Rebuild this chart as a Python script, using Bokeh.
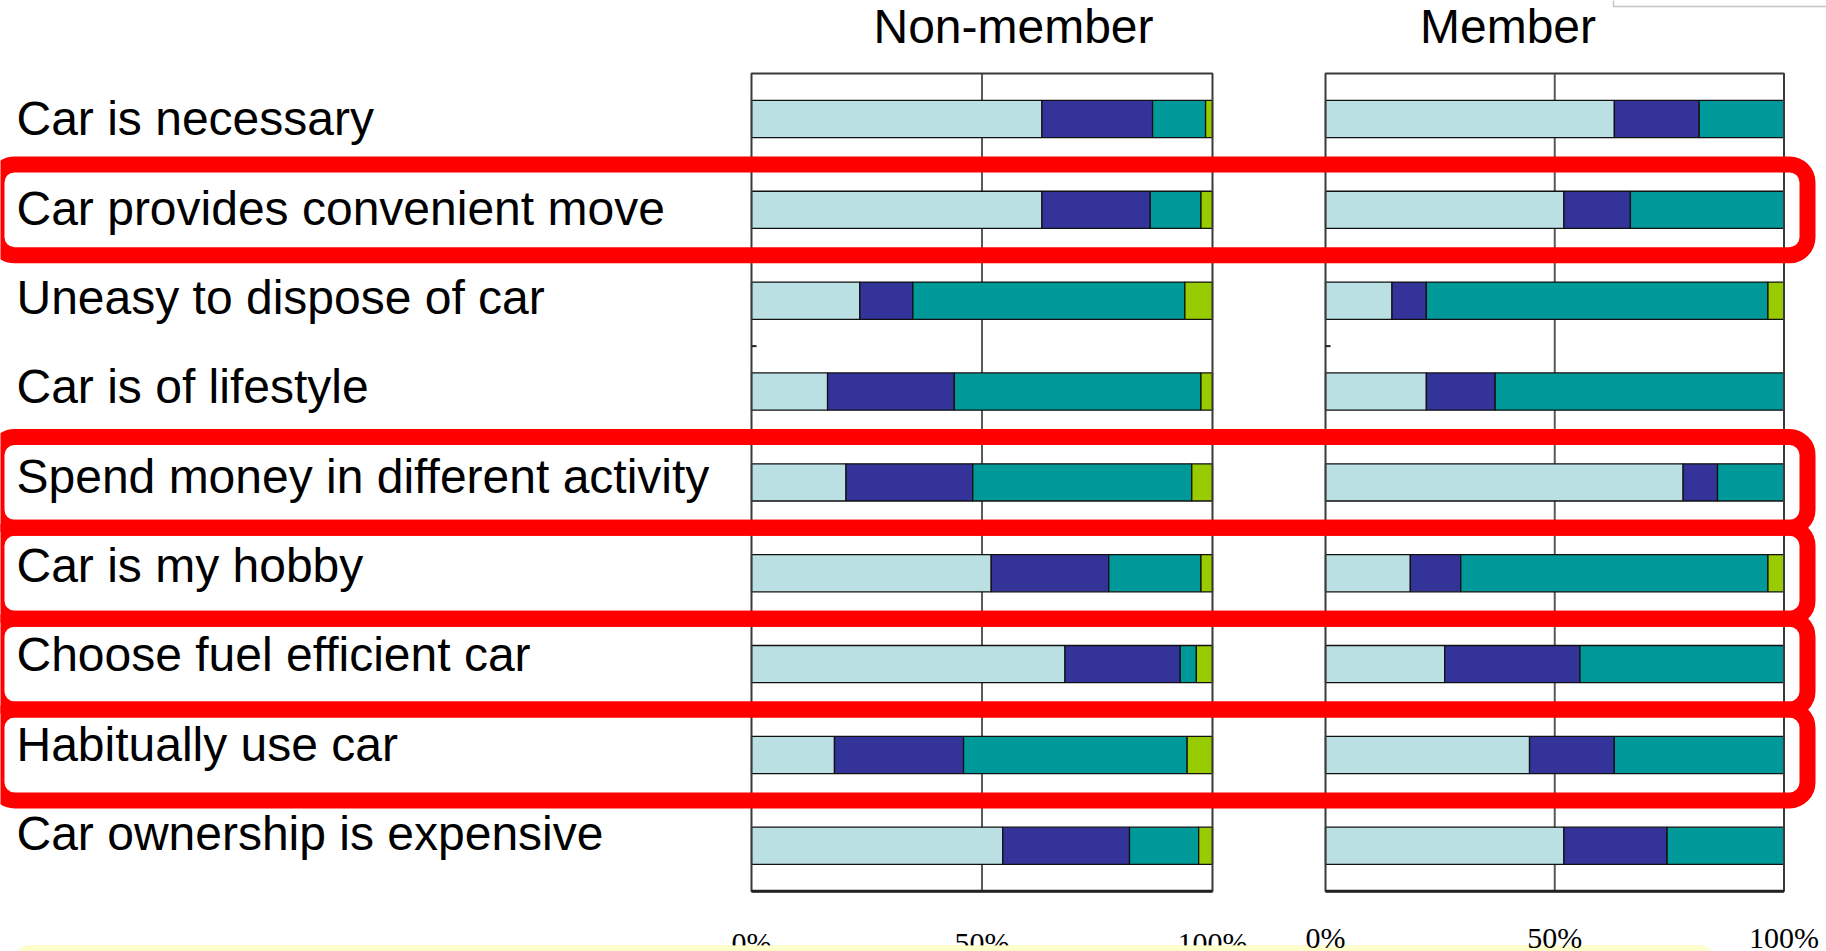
from bokeh.plotting import figure
from bokeh.models import Range1d, ColumnDataSource, BoxAnnotation
from bokeh.core.properties import value
from bokeh.embed import file_html
from bokeh.resources import INLINE

# ---------------------------------------------------------------- data
categories = [
    "Car is necessary",
    "Car provides convenient move",
    "Uneasy to dispose of car",
    "Car is of lifestyle",
    "Spend money in different activity",
    "Car is my hobby",
    "Choose fuel efficient car",
    "Habitually use car",
    "Car ownership is expensive",
]

# share of answers (%) per statement, four answer groups, non-members
nm_group1 = [63.0, 63.0, 23.5, 16.5, 20.5, 52.0, 68.0, 18.0, 54.5]
nm_group2 = [24.0, 23.5, 11.5, 27.5, 27.5, 25.5, 25.0, 28.0, 27.5]
nm_group3 = [11.5, 11.0, 59.0, 53.5, 47.5, 20.0, 3.5, 48.5, 15.0]
nm_group4 = [1.5, 2.5, 6.0, 2.5, 4.5, 2.5, 3.5, 5.5, 3.0]

# same statements, members
m_group1 = [63.0, 52.0, 14.5, 22.0, 78.0, 18.5, 26.0, 44.5, 52.0]
m_group2 = [18.5, 14.5, 7.5, 15.0, 7.5, 11.0, 29.5, 18.5, 22.5]
m_group3 = [18.5, 33.5, 74.5, 63.0, 14.5, 67.0, 44.5, 37.0, 25.5]
m_group4 = [0.0, 0.0, 3.5, 0.0, 0.0, 3.5, 0.0, 0.0, 0.0]

panel_titles = ["Non-member", "Member"]
tick_values = [0, 50, 100]
tick_labels = ["0%", "50%", "100%"]

# statements outlined in red
highlighted_rows = [1, 4, 5, 6, 7]

# ---------------------------------------------------------------- layout
W, H = 1826, 951
NM_PX = (751.0, 1212.0)      # pixel span of 0%..100% for non-members
M_PX = (1325.0, 1783.5)      # pixel span of 0%..100% for members
ROW0, ROW_STEP = 118.5, 90.85
LABEL0, LABEL_STEP = 118.3, 89.35
BAR_H = 0.41

segment_colors = ["#BBE0E3", "#333399", "#009999", "#99CC00"]
FONT = value("Liberation Sans")


def pct_range(px0, px1):
    k = 100.0 / (px1 - px0)
    return Range1d(start=-px0 * k, end=(W - px0) * k)


def row_range(y0, step):
    # flipped: first row at the top
    return Range1d(start=(H - y0) / step, end=-y0 / step)


p = figure(
    width=W, height=H,
    x_range=pct_range(*NM_PX),
    y_range=row_range(ROW0, ROW_STEP),
    output_backend="svg",
    toolbar_location=None,
    x_axis_location=None,
    y_axis_location=None,
    min_border=0,
    outline_line_color=None,
    title=None,
    background_fill_color="white",
    border_fill_color="white",
)
p.grid.visible = False
p.extra_x_ranges = {"member": pct_range(*M_PX), "px": Range1d(0, W)}
p.extra_y_ranges = {"px": Range1d(H, 0), "labels": row_range(LABEL0, LABEL_STEP)}

n = len(categories)
keys = ["g1", "g2", "g3", "g4"]


def draw_panel(groups, range_name):
    top, bottom = -0.5, n - 0.5
    # 50% reference line behind the bars
    p.segment(x0=[50], y0=[top], x1=[50], y1=[bottom], line_color="#5a5a5a",
              line_width=2, x_range_name=range_name)
    src = ColumnDataSource(dict(row=list(range(n)), **dict(zip(keys, groups))))
    p.hbar_stack(keys, y="row", height=BAR_H, fill_color=segment_colors,
                 line_color="#111111", line_width=1.3, source=src,
                 x_range_name=range_name)
    # plot frame
    p.quad(left=[0], right=[100], top=[top], bottom=[bottom], fill_color=None,
           line_color="#3a3a3a", line_width=2, x_range_name=range_name)
    p.segment(x0=[0], y0=[bottom], x1=[100], y1=[bottom], line_color="#222222",
              line_width=3, x_range_name=range_name)
    # stray tick stub on the left edge between the 3rd and 4th statements
    p.segment(x0=[0], y0=[2.5], x1=[1.1], y1=[2.5], line_color="#222222",
              line_width=2, x_range_name=range_name)


draw_panel([nm_group1, nm_group2, nm_group3, nm_group4], "default")
draw_panel([m_group1, m_group2, m_group3, m_group4], "member")

# statement labels
p.text(x=[16] * n, y=list(range(n)), text=categories, x_range_name="px",
       y_range_name="labels", text_baseline="alphabetic",
       text_font=FONT, text_font_size="48px", text_color="#000000")

# panel titles
p.text(x=[1013, 1507.5], y=[26, 26], text=panel_titles, x_range_name="px",
       y_range_name="px", text_align="center", text_baseline="alphabetic",
       text_font=FONT, text_font_size="48px", text_color="#000000")

# red highlight frames
for r in highlighted_rows:
    p.add_layout(BoxAnnotation(
        left=-4, right=1807, top=r - 0.5, bottom=r + 0.5, x_range_name="px",
        fill_color=None, fill_alpha=0, line_color="#FF0000", line_width=16,
        line_alpha=1, border_radius=18))

# percentage scale under the non-member panel (partly hidden by the note box)
p.text(x=tick_values, y=[925] * 3, text=tick_labels, y_range_name="px",
       text_align="center", text_baseline="top",
       text_font=value("Liberation Sans Narrow"), text_font_size="30px",
       text_color="#000000")

# note box at the foot of the slide
p.add_layout(BoxAnnotation(
    left=16, right=1712, top=945, bottom=1010, x_range_name="px", y_range_name="px",
    fill_color="#FFFFCC", fill_alpha=1, line_color="#EDEDB5", line_width=1,
    border_radius=12))

# legend frame peeking in at the top right
p.add_layout(BoxAnnotation(
    left=1613, right=1850, top=-20, bottom=6, x_range_name="px", y_range_name="px",
    fill_color="white", fill_alpha=1, line_color="#404040", line_width=1.5))

# percentage scale under the member panel, drawn over the note box
p.text(x=tick_values, y=[920] * 3, text=tick_labels, x_range_name="member",
       y_range_name="px", text_align="center", text_baseline="top",
       text_font=value("Liberation Sans Narrow"), text_font_size="30px",
       text_color="#000000", level="overlay")

open("out.html", "w").write(file_html(p, INLINE))
